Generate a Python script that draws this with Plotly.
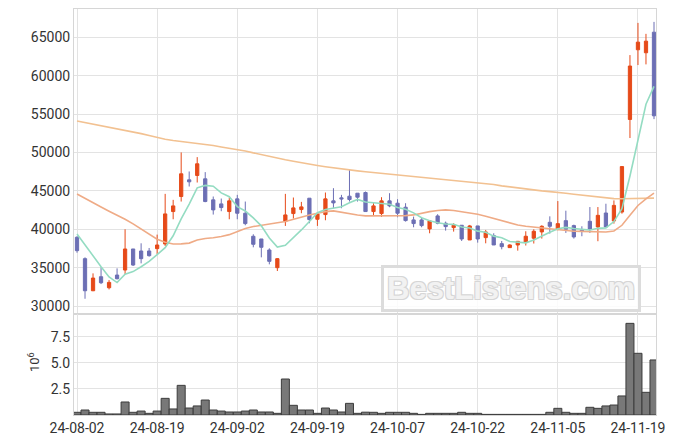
import plotly.graph_objects as go

# Trading days (KRX) 2024-08-02 .. 2024-11-21
dates = [
    "2024-08-02", "2024-08-05", "2024-08-06", "2024-08-07", "2024-08-08", "2024-08-09",
    "2024-08-12", "2024-08-13", "2024-08-14", "2024-08-16", "2024-08-19", "2024-08-20",
    "2024-08-21", "2024-08-22", "2024-08-23", "2024-08-26", "2024-08-27", "2024-08-28",
    "2024-08-29", "2024-08-30", "2024-09-02", "2024-09-03", "2024-09-04", "2024-09-05",
    "2024-09-06", "2024-09-09", "2024-09-10", "2024-09-11", "2024-09-12", "2024-09-13",
    "2024-09-19", "2024-09-20", "2024-09-23", "2024-09-24", "2024-09-25", "2024-09-26",
    "2024-09-27", "2024-09-30", "2024-10-02", "2024-10-04", "2024-10-07", "2024-10-08",
    "2024-10-10", "2024-10-11", "2024-10-14", "2024-10-15", "2024-10-16", "2024-10-17",
    "2024-10-18", "2024-10-21", "2024-10-22", "2024-10-23", "2024-10-24", "2024-10-25",
    "2024-10-28", "2024-10-29", "2024-10-30", "2024-10-31", "2024-11-01", "2024-11-04",
    "2024-11-05", "2024-11-06", "2024-11-07", "2024-11-08", "2024-11-11", "2024-11-12",
    "2024-11-13", "2024-11-14", "2024-11-15", "2024-11-18", "2024-11-19", "2024-11-20",
    "2024-11-21",
]

open_ = [38956, 36172, 31996, 33823, 32388, 34041, 34693, 37434, 37172, 37172,
         37477, 38086, 42306, 44263, 46438, 47004, 46569, 43828, 43306, 42306,
         43958, 42088, 39087, 38738, 37303, 34998, 41000, 42045, 42567, 44046,
         41305, 41914, 43698, 44089, 44307, 44698, 44785, 42306, 42045, 43698,
         43393, 42871, 41218, 41218, 40044, 41740, 40783, 40218, 40522, 38608,
         40435, 38913, 39174, 38130, 37608, 37955, 38315, 38834, 39654, 40907,
         40000, 41123, 40475, 39914, 41037, 40302, 42117, 41080, 42246, 54299,
         63371, 62982, 65661]
high = [39100, 36346, 34258, 35041, 33388, 34910, 40000, 37434, 38173, 37564,
        39304, 44611, 43828, 50005, 47526, 49396, 47439, 44263, 44002, 44133,
        44481, 43611, 39348, 38738, 37520, 36259, 44611, 44133, 43567, 44046,
        42001, 44785, 45351, 44481, 47830, 44698, 44916, 43393, 44176, 44698,
        43915, 43393, 41653, 41566, 41088, 41958, 41000, 40783, 40522, 40566,
        40435, 39913, 39478, 38478, 38043, 38478, 39741, 40000, 40518, 41685,
        43672, 42419, 40600, 40389, 42894, 42894, 43326, 43758, 48165, 62680,
        66870, 65445, 67000]
low = [36950, 30952, 31950, 32866, 32170, 33475, 34171, 35215, 35563, 36433,
       36781, 37825, 41305, 43611, 45568, 46090, 43524, 41914, 42349, 41305,
       41305, 40522, 37651, 36346, 35433, 34563, 40435, 41392, 42088, 40783,
       40435, 41175, 42741, 42741, 43611, 43611, 42306, 41740, 41610, 42871,
       41566, 41000, 40261, 40261, 39478, 40653, 39826, 39696, 38478, 38608,
       38260, 38173, 37955, 37390, 37608, 37216, 37883, 38142, 38790, 39438,
       39870, 39525, 38790, 39093, 39525, 38445, 40302, 40734, 42030, 51880,
       61384, 61470, 54342]
close = [37216, 31996, 33649, 33040, 33084, 33562, 37434, 35346, 36172, 36563,
         37955, 42001, 43045, 47221, 46177, 48526, 43611, 42523, 42828, 43698,
         42088, 40740, 38043, 37651, 35824, 36172, 41870, 42784, 42915, 41262,
         42001, 43958, 43437, 43958, 43872, 44176, 42306, 43045, 43698, 43045,
         42088, 41131, 40740, 40479, 41088, 40783, 40348, 40522, 38738, 40435,
         38738, 39652, 37955, 37738, 37955, 38430, 39093, 39741, 40389, 40389,
         40734, 40000, 39006, 39784, 40000, 41814, 40302, 43110, 48165, 61254,
         64365, 64494, 54774]

ma5 = [39390, 37950, 36650, 35130, 33797, 33066, 34154, 34493, 35120, 35815,
       36694, 37607, 39147, 41357, 43280, 45394, 45716, 45612, 44733, 44237,
       42950, 42375, 41479, 40444, 38869, 37686, 37912, 38860, 39913, 41001,
       42166, 42584, 42715, 42923, 43445, 43880, 43550, 43471, 43419, 43254,
       42836, 42601, 42140, 41497, 41105, 40844, 40688, 40644, 40296, 40165,
       39756, 39617, 39104, 38904, 38408, 38346, 38234, 38591, 39122, 39608,
       40069, 40251, 40104, 39983, 39905, 40121, 40181, 41002, 42678, 46929,
       51439, 56278, 58610]
ma20 = [44600, 44000, 43450, 42900, 42350, 41850, 41300, 40700, 40000, 39300,
        38700, 38300, 38090, 38100, 38200, 38600, 38800, 38900, 39050, 39300,
        39700, 40100, 40350, 40550, 40700, 40850, 41000, 41300, 41550, 41850,
        42090, 42300, 42390, 42200, 42000, 41850, 41740, 41750, 41800, 41780,
        41740, 41780, 41870, 42100, 42300, 42450, 42520, 42450, 42300, 42120,
        41950, 41700, 41430, 41150, 40850, 40550, 40390, 40280, 40170, 40020,
        39870, 39800, 39740, 39720, 39700, 39670, 39650, 39780, 40520, 41810,
        43100, 43970, 44700]
ma_long = [54100, 53900, 53720, 53540, 53340, 53120, 52900, 52680, 52450, 52200,
           51920, 51720, 51560, 51440, 51320, 51200, 51060, 50900, 50720, 50560,
           50430, 50200, 49950, 49700, 49450, 49250, 49050, 48850, 48650, 48470,
           48310, 48150, 48000, 47820, 47700, 47600, 47480, 47380, 47260, 47160,
           47060, 46960, 46860, 46760, 46660, 46560, 46460, 46360, 46260, 46170,
           46075, 45980, 45820, 45650, 45500, 45350, 45215, 45100, 45000, 44900,
           44830, 44700, 44570, 44440, 44300, 44160, 44060, 43990, 43970, 44000,
           44050, 44060, 44060]

volume_m = [0.26, 0.48, 0.26, 0.26, 0.10, 0.10, 1.25, 0.26, 0.38, 0.16,
            0.38, 1.60, 0.58, 2.85, 0.67, 0.87, 1.44, 0.48, 0.38, 0.29,
            0.29, 0.38, 0.48, 0.29, 0.29, 0.16, 3.46, 0.93, 0.48, 0.48,
            0.16, 0.67, 0.48, 0.29, 1.12, 0.16, 0.27, 0.26, 0.16, 0.26,
            0.26, 0.26, 0.16, 0.06, 0.16, 0.16, 0.16, 0.16, 0.26, 0.16,
            0.16, 0.06, 0.06, 0.06, 0.06, 0.06, 0.06, 0.06, 0.06, 0.26,
            0.64, 0.26, 0.16, 0.16, 0.74, 0.64, 0.87, 0.96, 1.83, 8.81,
            5.93, 2.18, 5.29]

price_ticks = [30000, 35000, 40000, 45000, 50000, 55000, 60000, 65000]
volume_ticks = [2.5, 5.0, 7.5]

x = list(range(len(dates)))
tick_pos = x[::10]
tick_text = [d[2:] for d in dates[::10]]

UP = "#e64a19"
DOWN = "#6c6fb4"
GRID = "#e3e3e3"
AXIS = "#d6d6d6"
FONT = dict(family="Roboto, Arial, sans-serif", size=14, color="#333333")

fig = go.Figure()

fig.add_trace(go.Scatter(x=x, y=ma_long, mode="lines", line=dict(color="#f2c191", width=1.6),
                         xaxis="x", yaxis="y", hoverinfo="skip"))
fig.add_trace(go.Scatter(x=x, y=ma20, mode="lines", line=dict(color="#efab86", width=1.6),
                         xaxis="x", yaxis="y", hoverinfo="skip"))
fig.add_trace(go.Scatter(x=x, y=ma5, mode="lines", line=dict(color="#94dcc2", width=1.6),
                         xaxis="x", yaxis="y", hoverinfo="skip"))

fig.add_trace(go.Candlestick(
    x=x, open=open_, high=high, low=low, close=close,
    increasing=dict(line=dict(color=UP, width=1), fillcolor=UP),
    decreasing=dict(line=dict(color=DOWN, width=1), fillcolor=DOWN),
    whiskerwidth=0, xaxis="x", yaxis="y"))

fig.add_trace(go.Bar(x=x, y=volume_m, width=1.0,
                     marker=dict(color="#787878", line=dict(color="#3c3c3c", width=1)),
                     xaxis="x2", yaxis="y2"))

split = 0.2488

# The page body adds an 8px offset, so the figure is sized/margined to compensate.
fig.update_layout(
    width=667, height=436,
    margin=dict(l=66, r=19, t=1, b=29, autoexpand=False),
    paper_bgcolor="white", plot_bgcolor="white",
    showlegend=False,
    font=FONT,
    boxgap=0.42,
    xaxis=dict(domain=[0, 1], anchor="y", range=[-0.375, 72.25], tickvals=tick_pos,
               ticktext=tick_text, showticklabels=False, showgrid=True, gridcolor=GRID,
               zeroline=False, showline=True, linecolor=AXIS, mirror=True, ticks="",
               rangeslider=dict(visible=False)),
    yaxis=dict(domain=[split, 1], anchor="x", range=[28970, 68680], tickvals=price_ticks,
               tickformat="d", showgrid=True, gridcolor=GRID, zeroline=False,
               showline=True, linecolor=AXIS, mirror=True, ticks=""),
    xaxis2=dict(domain=[0, 1], anchor="y2", matches="x", range=[-0.375, 72.25],
                tickvals=tick_pos, ticktext=tick_text, showgrid=True, gridcolor=GRID,
                zeroline=False, showline=True, linecolor=AXIS, mirror=True, ticks=""),
    yaxis2=dict(domain=[0, split], anchor="x2", range=[0, 9.71], tickvals=volume_ticks,
                tickformat=".1f", showgrid=True, gridcolor=GRID, zeroline=False,
                showline=True, linecolor=AXIS, mirror=True, ticks=""),
)

fig.add_annotation(xref="paper", yref="paper", x=-0.069, y=0.13, text="10<sup>6</sup>",
                   xanchor="center", yanchor="middle",
                   textangle=-90, showarrow=False, font=dict(size=13, color="#333333"))

fig.add_annotation(xref="paper", yref="paper", x=0.7517, y=0.3116, text="<b>BestListens.com</b>",
                   xanchor="center", yanchor="middle",
                   showarrow=False, bgcolor="rgba(255,255,255,0.85)", bordercolor="#dcdcdc",
                   borderwidth=3, borderpad=3,
                   font=dict(family="Arial, Liberation Sans, sans-serif", size=31, color="#f2f2f2",
                             shadow="1px 1px 0 #d6d6d6, -1px -1px 0 #d6d6d6, 1px -1px 0 #d6d6d6, -1px 1px 0 #d6d6d6"))

fig.write_html("out.html")
